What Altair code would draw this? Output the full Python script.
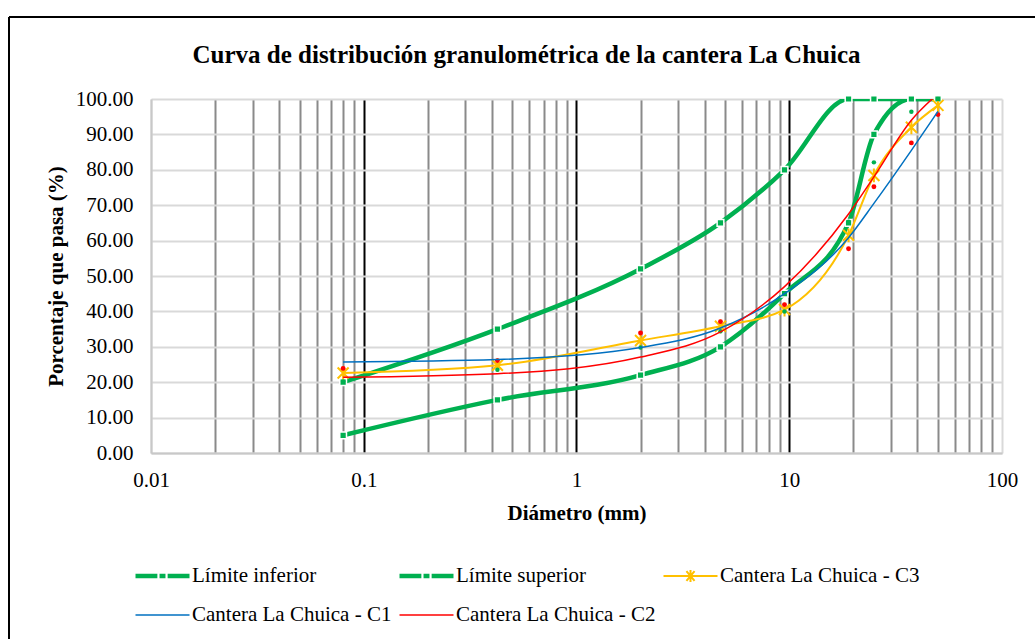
import altair as alt
import pandas as pd

# Abertura de los tamices (mm)
tamices = [0.08, 0.425, 2.0, 4.75, 9.5, 19.0, 25.0, 37.5, 50.0]

# Porcentaje que pasa en cada tamiz
limite_inferior = [5, 15, 22, 30, 45, 65, 90, 100, 100]
limite_superior = [20, 35, 52, 65, 80, 100, 100, 100, 100]
cantera_c3 = [22.6, 24.8, 31.8, 35.8, 40.5, 61.5, 78.4, 92.0, 98.2]
puntos_c1 = [20.2, 23.5, 29.8, 34.4, 40.0, 65.3, 82.1, 96.4, 100.0]
puntos_c2 = [23.9, 26.1, 33.9, 37.1, 41.9, 57.7, 75.2, 87.6, 95.6]
curva_c1 = [25.7, 26.4, 29.8, 35.3, 45.0, 60.8, 70.5, 85.5, 96.5]
curva_c2 = [21.4, 22.4, 27.1, 34.2, 47.0, 67.5, 78.0, 94.0, 101.5]

series = ["Límite inferior", "Límite superior", "Cantera La Chuica - C3",
          "Cantera La Chuica - C1", "Cantera La Chuica - C2"]
colores = ["#00B050", "#00B050", "#FFC000", "#0070C0", "#FF0000"]
grosores = [4.5, 4.5, 2, 1.5, 1.5]

# Símbolos de la leyenda (línea con marcador)
SIM_LIMITE = "M-1,0L-0.19,0M-0.11,0L0.11,0M0.19,0L1,0"
SIM_C3 = "M-1,0L1,0M-0.15,-0.18L0.15,0.18M-0.15,0.18L0.15,-0.18M0,-0.22L0,0.22"
SIM_LINEA = "M-1,0L1,0"
simbolos = [SIM_LIMITE, SIM_LIMITE, SIM_C3, SIM_LINEA, SIM_LINEA]

ESTRELLA = "M-1,-1L1,1M-1,1L1,-1M0,-1.25L0,1.25"

FUENTE = "Liberation Serif"

# Marcas del eje logarítmico
decadas = [0.01, 0.1, 1, 10, 100]
marcas_x = [round(m * 10.0 ** e, 6) for e in range(-2, 2) for m in range(1, 10)] + [100]
marcas_y = list(range(0, 101, 10))


def tabla(valores, nombre):
    return pd.DataFrame({"tamiz": tamices, "pasa": valores, "serie": nombre})


x_enc = alt.X(
    "tamiz:Q",
    title="Diámetro (mm)",
    scale=alt.Scale(type="log", domain=[0.01, 100], nice=False),
    axis=alt.Axis(
        values=marcas_x,
        format="~g",
        labelExpr="indexof([0.01,0.1,1,10,100], datum.value) >= 0 ? datum.label : ''",
        labelOverlap=False,
        labelFlush=False,
        labelFont=FUENTE, labelFontSize=21, labelColor="black", labelPadding=16,
        titleFont=FUENTE, titleFontSize=21, titleFontWeight="bold", titleColor="black",
        titlePadding=12,
        ticks=False,
        domainColor="#c8c8c8", domainWidth=2,
        gridWidth=2,
        gridColor={
            "condition": [
                {"test": "datum.value == 0.1 || datum.value == 1 || datum.value == 10",
                 "value": "#000000"},
                {"test": "datum.value <= 0.01 || datum.value >= 100", "value": "#d9d9d9"},
            ],
            "value": "#8a8a8a",
        },
    ),
)

y_enc = alt.Y(
    "pasa:Q",
    title="Porcentaje que pasa (%)",
    scale=alt.Scale(domain=[0, 100], nice=False, zero=False),
    axis=alt.Axis(
        values=marcas_y,
        format=".2f",
        labelFlush=False,
        labelFont=FUENTE, labelFontSize=21, labelColor="black", labelPadding=18,
        titleFont=FUENTE, titleFontSize=21, titleFontWeight="bold", titleColor="black",
        titlePadding=9,
        ticks=False,
        domainColor="#c8c8c8", domainWidth=2,
        gridColor="#d9d9d9", gridWidth=2,
    ),
)

limites = pd.concat([tabla(limite_inferior, series[0]), tabla(limite_superior, series[1])])
c3 = tabla(cantera_c3, series[2])
c1_p = tabla(puntos_c1, series[3])
c2_p = tabla(puntos_c2, series[4])
c1_c = tabla(curva_c1, series[3])
c2_c = tabla(curva_c2, series[4])

# Recuadro exterior del gráfico
marco_base = alt.Chart(pd.DataFrame({"marco": [0]}))
marco_izq = marco_base.mark_rule(color="black", strokeWidth=2).encode(
    x=alt.value(-142), y=alt.value(-82), y2=alt.value(545))
marco_sup = marco_base.mark_rule(color="black", strokeWidth=2).encode(
    y=alt.value(-82), x=alt.value(-142), x2=alt.value(895))

lin_limites = alt.Chart(limites).mark_line(
    interpolate="monotone", color="#00B050", strokeWidth=4.5, clip=True
).encode(x=x_enc, y=y_enc, detail="serie:N")

pts_limites = alt.Chart(limites).mark_point(
    shape="square", filled=True, size=45, fill="#00B050", stroke="white",
    strokeWidth=1.5, opacity=1
).encode(x=x_enc, y=y_enc)

lin_c3 = alt.Chart(c3).mark_line(
    interpolate="monotone", color="#FFC000", strokeWidth=2, clip=True
).encode(x=x_enc, y=y_enc)

pts_c3 = alt.Chart(c3).mark_point(
    shape=ESTRELLA, filled=False, size=121, stroke="#FFC000", strokeWidth=2, opacity=1
).encode(x=x_enc, y=y_enc)

pts_c1 = alt.Chart(c1_p).mark_point(
    shape="circle", filled=True, size=20, fill="#00B050", strokeWidth=0, opacity=1
).encode(x=x_enc, y=y_enc)

pts_c2 = alt.Chart(c2_p).mark_point(
    shape="circle", filled=True, size=24, fill="#FF0000", strokeWidth=0, opacity=1
).encode(x=x_enc, y=y_enc)

lin_c1 = alt.Chart(c1_c).mark_line(
    interpolate="monotone", color="#0070C0", strokeWidth=1.5, clip=True
).encode(x=x_enc, y=y_enc)

lin_c2 = alt.Chart(c2_c).mark_line(
    interpolate="monotone", color="#FF0000", strokeWidth=1.5, clip=True
).encode(x=x_enc, y=y_enc)

# Leyenda: sólo aporta las escalas, no dibuja puntos
ley = alt.Legend(
    orient="none", direction="horizontal", legendX=-18, legendY=466, columns=3,
    gridAlign="each", columnPadding=5, rowPadding=17, clipHeight=22,
    labelFont=FUENTE, labelFontSize=21, labelColor="black", labelLimit=400,
    labelOffset=0, symbolSize=2916, symbolOffset=0,
)
leyenda = alt.Chart(pd.DataFrame({"serie": series})).transform_filter("false").mark_point(
    filled=False, size=2916, opacity=1
).encode(
    stroke=alt.Stroke("serie:N", title=None,
                      scale=alt.Scale(domain=series, range=colores), legend=ley),
    shape=alt.Shape("serie:N", title=None,
                    scale=alt.Scale(domain=series, range=simbolos), legend=ley),
    strokeWidth=alt.StrokeWidth("serie:N", title=None,
                                scale=alt.Scale(type="ordinal", domain=series, range=grosores),
                                legend=ley),
)

titulo = alt.TitleParams(
    "Curva de distribución granulométrica de la cantera La Chuica",
    font=FUENTE, fontSize=25, fontWeight="bold", color="black",
    anchor="middle", frame="group", dx=-50, baseline="alphabetic", offset=-72,
)

chart = alt.layer(
    marco_izq, marco_sup, lin_limites, pts_limites, lin_c3, pts_c3,
    pts_c1, pts_c2, lin_c1, lin_c2, leyenda,
).properties(
    width=851, height=354,
    padding={"left": 151, "top": 99, "right": 33, "bottom": 186},
    autosize=alt.AutoSizeParams(type="none"),
    title=titulo,
    background="white",
).configure_view(stroke=None)

chart.save("out.html", embed_options={"renderer": "svg", "actions": False})
